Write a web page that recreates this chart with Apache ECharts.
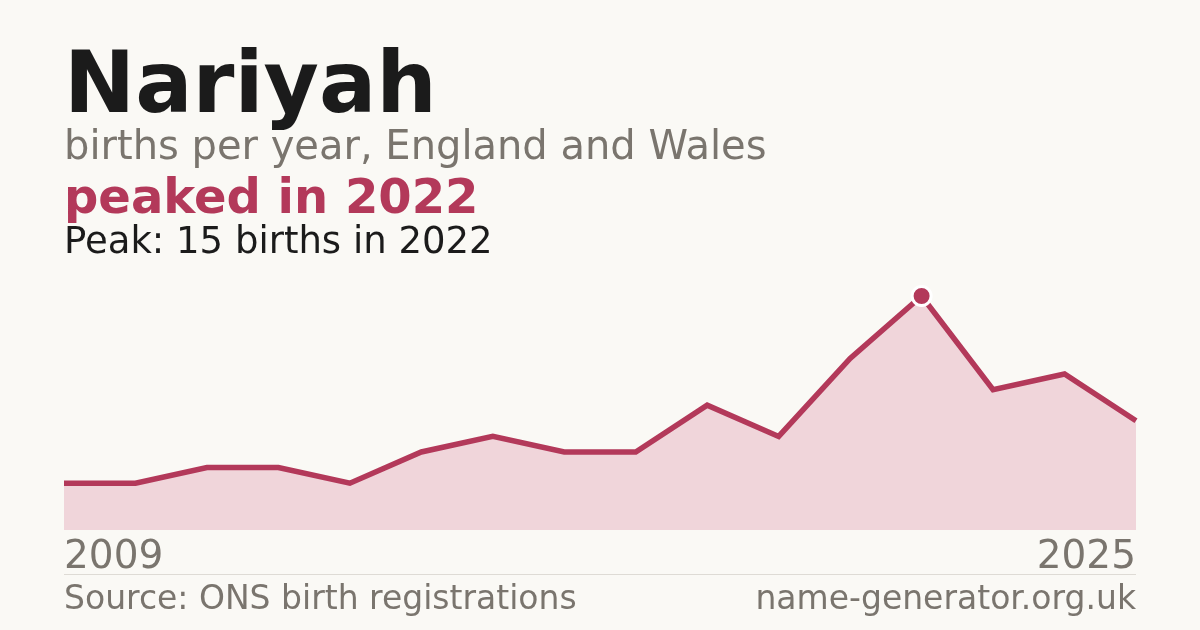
<!DOCTYPE html>
<html>
<head>
<meta charset="utf-8">
<script src="https://cdn.jsdelivr.net/npm/echarts@6/dist/echarts.min.js"></script>
<style>
  html, body { margin: 0; padding: 0; background: #faf9f5; }
  #chart { width: 1200px; height: 630px; }
</style>
</head>
<body>
<div id="chart"></div>
<script>
// years on the x axis (2020 is not in the series)
var years = ['2009', '2010', '2011', '2012', '2013', '2014', '2015', '2016',
             '2017', '2018', '2019', '2021', '2022', '2023', '2024', '2025'];
// births per year
var births = [3, 3, 4, 4, 3, 5, 6, 5, 5, 8, 6, 11, 15, 9, 10, 7];

var nameText = 'Nariyah';
var subText = 'births per year, England and Wales';
var headline = 'peaked in 2022';
var peakText = 'Peak: 15 births in 2022';
var sourceText = 'Source: ONS birth registrations';
var siteText = 'name-generator.org.uk';

var accent = '#b3395a';
var grey = '#7a756e';

var myChart = echarts.init(document.getElementById('chart'));

// find the peak so only that point gets a dot
var peakIdx = 0;
for (var i = 1; i < births.length; i++) {
    if (births[i] > births[peakIdx]) peakIdx = i;
}
var seriesData = births.map(function (v, i) {
    if (i === peakIdx) {
        return { value: v, symbol: 'circle', symbolSize: 19 };
    }
    return { value: v, symbol: 'none' };
});

var font = 'DejaVu Sans';

var option = {
    backgroundColor: '#faf9f5',
    animation: false,
    grid: { left: 64, right: 64, top: 296, bottom: 100 },
    xAxis: {
        type: 'category',
        data: years,
        boundaryGap: false,
        axisLine: { show: false },
        axisTick: { show: false },
        splitLine: { show: false },
        axisLabel: {
            interval: function (idx) { return idx === 0 || idx === years.length - 1; },
            alignMinLabel: 'left',
            alignMaxLabel: 'right',
            color: grey,
            fontFamily: font,
            fontSize: 39,
            margin: 8
        }
    },
    yAxis: {
        type: 'value',
        min: 0,
        max: 15,
        show: false,
        splitLine: { show: false }
    },
    series: [{
        type: 'line',
        data: seriesData,
        lineStyle: { color: accent, width: 5.5, join: 'miter' },
        itemStyle: { color: accent, borderColor: '#ffffff', borderWidth: 3 },
        areaStyle: { color: '#f0d5da', opacity: 1 },
        z: 3
    }],
    graphic: [
        {
            type: 'text', left: 64, top: 47,
            style: { text: nameText, fill: '#1b1b1b', font: 'bold 85px "DejaVu Sans"' }
        },
        {
            type: 'text', left: 64, top: 129,
            style: { text: subText, fill: grey, font: '40px "DejaVu Sans"' }
        },
        {
            type: 'text', left: 64, top: 177,
            style: { text: headline, fill: accent, font: 'bold 48px "DejaVu Sans"' }
        },
        {
            type: 'text', left: 64, top: 225,
            style: { text: peakText, fill: '#1b1b1b', font: '37px "DejaVu Sans"' }
        },
        {
            type: 'rect', left: 64, top: 574,
            shape: { width: 1072, height: 1 },
            style: { fill: '#dedbd5' }
        },
        {
            type: 'text', left: 64, top: 584,
            style: { text: sourceText, fill: grey, font: '33px "DejaVu Sans"' }
        },
        {
            type: 'text', right: 64, top: 584,
            style: { text: siteText, fill: grey, font: '33px "DejaVu Sans"', textAlign: 'right' }
        }
    ]
};

myChart.setOption(option);
</script>
</body>
</html>
